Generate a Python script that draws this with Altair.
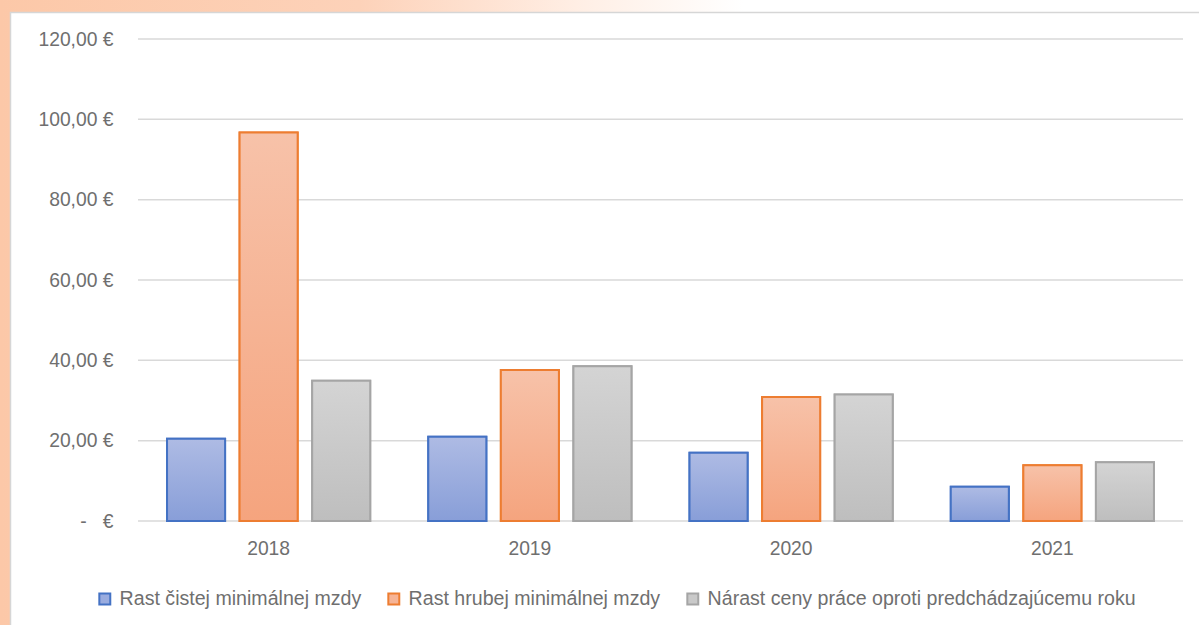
import altair as alt
import pandas as pd

# Year-on-year growth in euros
years = ["2018", "2019", "2020", "2021"]
series = [
    "Rast čistej minimálnej mzdy",
    "Rast hrubej minimálnej mzdy",
    "Nárast ceny práce oproti predchádzajúcemu roku",
]
net_wage_growth = [20.5, 21.0, 17.0, 8.5]
gross_wage_growth = [96.7, 37.6, 30.9, 13.9]
labour_cost_growth = [34.9, 38.5, 31.5, 14.6]
y_ticks = [0, 20, 40, 60, 80, 100, 120]

edge_colors = ["#4472C4", "#ED7D31", "#A5A5A5"]
fill_tops = ["#aebbe4", "#f7c2a9", "#d4d4d4"]
fill_bottoms = ["#889ed8", "#f5a47e", "#bebebe"]
legend_fills = ["#9aacdf", "#f6b496", "#c9c9c9"]

TEXT = "#6f6f6f"
FONT = "Liberation Sans"
FS = 19.3
LEGEND_FS = 19.6

W, H = 1045, 482
PAD_L, PAD_T = 138, 39
CANVAS_W, CANVAS_H = 1199, 625

rows = []
for vals, name in zip([net_wage_growth, gross_wage_growth, labour_cost_growth], series):
    for yr, v in zip(years, vals):
        rows.append({"year": yr, "series": name, "value": v})
df = pd.DataFrame(rows)
grid_df = pd.DataFrame({"value": y_ticks})
one = pd.DataFrame({"k": [0]})

y_scale = alt.Scale(domain=[0, 120], nice=False, zero=True)

x_enc = alt.X(
    "year:N",
    sort=years,
    scale=alt.Scale(paddingInner=0, paddingOuter=0),
    axis=alt.Axis(
        title=None, labelAngle=0, domain=False, ticks=False, grid=False,
        labelPadding=18, labelFontSize=FS, labelFont=FONT, labelColor=TEXT, zindex=1,
    ),
)
xo_enc = alt.XOffset(
    "series:N", sort=series,
    scale=alt.Scale(domain=series, paddingInner=0.2, paddingOuter=0.4),
)
y_enc = alt.Y(
    "value:Q",
    scale=y_scale,
    axis=alt.Axis(
        title=None, values=y_ticks, grid=False, domain=False, ticks=False,
        labelPadding=25, labelFontSize=FS, labelFont=FONT, labelColor=TEXT, zindex=1,
        labelExpr="datum.value == 0 ? '-\u00a0\u00a0\u00a0€' : replace(format(datum.value, '.2f'), '.', ',') + ' €'",
    ),
)

# Slide backdrop and the white chart panel
backdrop = alt.Chart(one).mark_rect(
    fill=alt.Gradient(
        gradient="linear", x1=0, x2=1, y1=0, y2=0,
        stops=[
            alt.GradientStop(color="#fcc8a8", offset=0),
            alt.GradientStop(color="#fdd2b9", offset=0.3),
            alt.GradientStop(color="#ffeee4", offset=0.48),
            alt.GradientStop(color="#ffffff", offset=0.62),
        ],
    ),
    clip=False,
).encode(
    x=alt.value(-PAD_L), x2=alt.value(CANVAS_W - PAD_L),
    y=alt.value(-PAD_T), y2=alt.value(CANVAS_H - PAD_T),
)
panel = alt.Chart(one).mark_rect(
    fill="white", stroke="#d6d6d6", strokeWidth=1.5, clip=False
).encode(
    x=alt.value(10.5 - PAD_L), x2=alt.value(CANVAS_W - PAD_L + 5),
    y=alt.value(12.5 - PAD_T), y2=alt.value(CANVAS_H - PAD_T + 5),
)

# Horizontal gridlines at each tick, including the zero baseline
gridlines = alt.Chart(grid_df).mark_rule(color="#d9d9d9", strokeWidth=1.5).encode(y=y_enc)

legend = alt.Legend(
    title=None, orient="none", legendX=-43, legendY=550, direction="horizontal",
    symbolType="square", symbolSize=120, symbolStrokeWidth=2,
    labelFontSize=LEGEND_FS, labelFont=FONT, labelColor=TEXT, labelOffset=5,
    columnPadding=22, labelLimit=0, padding=0,
)

base_bars = alt.Chart(df).mark_bar(strokeWidth=2).encode(
    x=x_enc, xOffset=xo_enc, y=y_enc,
    fill=alt.Fill("series:N", sort=series, scale=alt.Scale(domain=series, range=legend_fills), legend=legend),
    stroke=alt.Stroke("series:N", sort=series, scale=alt.Scale(domain=series, range=edge_colors), legend=legend),
)

shaded = []
for name, top, bottom, edge in zip(series, fill_tops, fill_bottoms, edge_colors):
    shaded.append(
        alt.Chart(df)
        .transform_filter(alt.datum.series == name)
        .mark_bar(
            fill=alt.Gradient(
                gradient="linear", x1=0, x2=0, y1=0, y2=1,
                stops=[
                    alt.GradientStop(color=top, offset=0),
                    alt.GradientStop(color=bottom, offset=1),
                ],
            ),
            stroke=edge, strokeWidth=2,
        )
        .encode(x=x_enc, xOffset=xo_enc, y=y_enc)
    )

chart = (
    alt.layer(backdrop, panel, gridlines, base_bars, *shaded)
    .properties(
        width=W, height=H,
        autosize=alt.AutoSizeParams(type="none"),
        padding={"left": PAD_L, "top": PAD_T, "right": CANVAS_W - PAD_L - W, "bottom": CANVAS_H - PAD_T - H},
        background="white",
    )
    .configure_view(stroke=None)
)

chart.save("out.html", embed_options={"renderer": "svg", "actions": False})
